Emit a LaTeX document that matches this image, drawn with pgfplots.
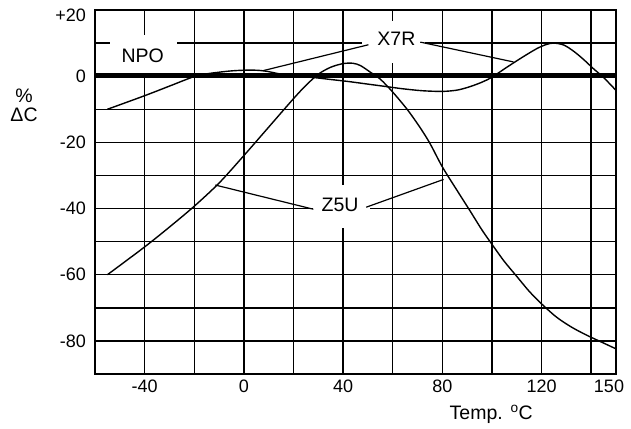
\documentclass[border=0pt]{standalone}
\usepackage{fontspec}
\setmainfont{Liberation Sans}
\usepackage{pgfplots}
\pgfplotsset{compat=1.18}

\newcommand{\lbl}{\fontsize{19.5}{22}\selectfont}

\begin{document}
\begin{tikzpicture}
\useasboundingbox (-95pt,-54pt) rectangle (536pt,374pt);
\begin{axis}[
  at={(0pt,0pt)}, anchor=south west,
  scale only axis, width=521pt, height=364pt,
  xmin=-60, xmax=150, ymin=-90, ymax=20,
  xtick={-40,0,40,80,120},
  xticklabels={-40,0,40,80,120},
  extra x ticks={150},
  extra x tick labels={150},
  extra x tick style={xticklabel style={xshift=-7pt}},
  minor xtick={-20,20,60,100,140},
  ytick={-80,-60,-40,-20,0},
  yticklabels={-80,-60,-40,-20,0},
  extra y ticks={20},
  extra y tick labels={+20},
  extra y tick style={yticklabel style={yshift=-5pt}},
  minor ytick={-90,-70,-50,-30,-10,10},
  grid=both,
  major grid style={black, line width=1.4pt},
  minor grid style={black, line width=1.4pt},
  axis line style={black, line width=1.6pt},
  major tick length=0pt, minor tick length=0pt,
  tick label style={font=\fontsize{18}{20}\selectfont},
  yticklabel style={xshift=-5.5pt},
  xticklabel style={yshift=-2pt},
  clip=false,
]
% white boxes behind the curve names
\fill[white] (axis cs:-53.9,0.8) rectangle (axis cs:-26.9,12.3);
\fill[white] (axis cs:47.7,3.9) rectangle (axis cs:73.1,16.8);
\fill[white] (axis cs:27.9,-45.8) rectangle (axis cs:50.9,-32.9);

% NPO
\addplot[black, line width=5pt] coordinates {(-60,0.2) (150,0.2)};

% X7R
\addplot[black, line width=1.4pt, smooth, tension=0.5] coordinates {
  (-55,-10) (-40,-5.9) (-30,-3.0) (-20,-0.1) (-15,0.7) (-10,1.2) (-5,1.6)
  (0,1.8) (5,1.8) (9,1.5) (13,0.9) (17,0.3) (22,-0.1) (28,-0.4) (35,-1.0)
  (42,-1.6) (50,-2.4) (57,-3.1) (64,-3.8) (72,-4.4) (80,-4.6) (86,-4.2)
  (91,-3.2) (96,-1.8) (100,-0.3) (106,2.7) (112,5.6) (118,8.3) (122,9.6)
  (125,10) (129,9.4) (133,7.5) (137,5) (141,2.2) (145,-0.4) (150,-4.3)
};

% Z5U
\addplot[black, line width=1.4pt, smooth, tension=0.5] coordinates {
  (-55,-60) (-40,-51.6) (-30,-45.6) (-20,-39.3) (-10,-32.3) (0,-24)
  (10,-15.4) (20,-6.8) (25,-2.8) (30,0.6) (35,2.7) (40,3.8) (44,3.9)
  (47,3.2) (51,1.2) (55,-0.9) (60,-4.8) (66,-10.2) (71,-15.5) (75,-20.3)
  (80,-27.4) (86,-34.6) (91,-40.5) (96,-46.5) (100,-50.8) (105,-56)
  (110,-60.5) (115,-65) (120,-68.8) (126,-72.8) (132,-75.8) (138,-78.2)
  (144,-80.3) (150,-82.4)
};

% leader lines
\addplot[black, line width=1.2pt] coordinates {(50.2,9.5) (7.9,1.7)};
\addplot[black, line width=1.2pt] coordinates {(71.1,10.3) (108.7,4.3)};
\addplot[black, line width=1.2pt] coordinates {(-11.5,-32.9) (28,-40.2)};
\addplot[black, line width=1.2pt] coordinates {(49.3,-39.6) (80.5,-31.2)};

% curve names
\node[font=\lbl] at (axis cs:-40.8,6.3) {NPO};
\node[font=\lbl] at (axis cs:61.5,11.3) {X7R};
\node[font=\lbl] at (axis cs:38.8,-38.9) {Z5U};

% axis labels
\node[font=\lbl, align=center] at (axis cs:-88.6,-8.8) {\%\\[-3pt]ΔC};
\node[font=\lbl] at (axis cs:99.7,-102.2) {Temp.\hspace{0.4em}\textsuperscript{o}C};
\end{axis}
\end{tikzpicture}
\end{document}
